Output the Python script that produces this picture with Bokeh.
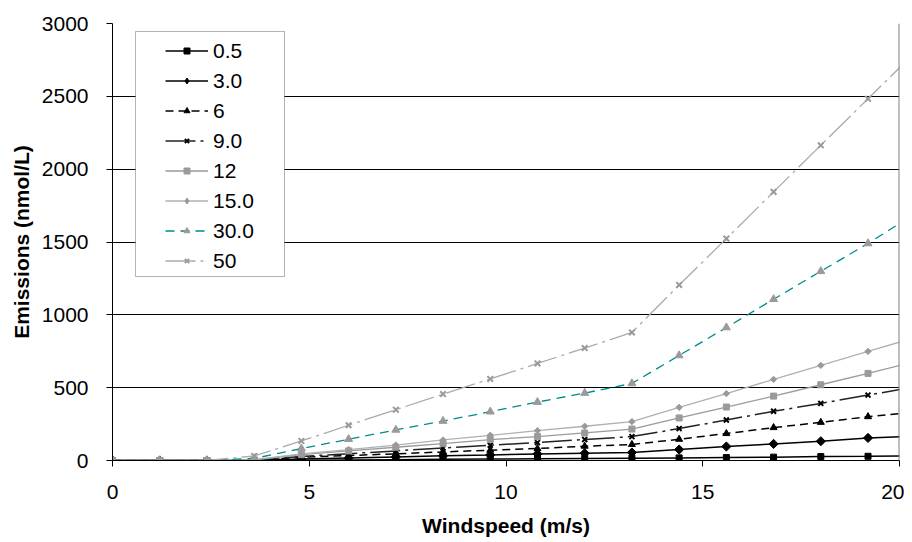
import math
from bokeh.plotting import figure
from bokeh.models import Range1d, Legend, LegendItem, BoxAnnotation, Span, FixedTicker
from bokeh.embed import file_html
from bokeh.resources import INLINE

# ---- data ----
windspeed = [0, 1.2, 2.4, 3.6, 4.8, 6.0, 7.2, 8.4, 9.6, 10.8, 12.0, 13.2, 14.4, 15.6, 16.8, 18.0, 19.2, 20.4]

s_0_5  = [0, 0, 0, 0, 2, 4, 6, 9, 10, 12, 14, 16, 18, 20, 23, 27, 29, 33]
s_3_0  = [0, 0, 0, 2, 10, 17, 24, 32, 38, 45, 50, 55, 75, 96, 114, 132, 155, 168]
s_6    = [0, 0, 0, 3, 22, 34, 46, 59, 71, 82, 98, 110, 146, 185, 226, 262, 301, 332]
s_9_0  = [0, 0, 0, 4, 28, 47, 66, 86, 105, 123, 144, 164, 219, 278, 338, 392, 449, 505]
s_12   = [0, 0, 0, 5, 40, 66, 91, 116, 144, 164, 189, 216, 292, 367, 442, 520, 598, 680]
s_15_0 = [0, 0, 0, 6, 46, 75, 106, 141, 173, 205, 235, 267, 365, 459, 557, 653, 749, 844]
s_30_0 = [0, 0, 0, 14, 82, 146, 210, 271, 335, 401, 463, 529, 721, 913, 1107, 1299, 1490, 1695]
s_50   = [0, 0, 0, 31, 134, 242, 349, 456, 560, 666, 772, 879, 1205, 1523, 1844, 2164, 2483, 2803]

labels = ["0.5", "3.0", "6", "9.0", "12", "15.0", "30.0", "50"]
series = [s_0_5, s_3_0, s_6, s_9_0, s_12, s_15_0, s_30_0, s_50]

y_ticks = [0, 500, 1000, 1500, 2000, 2500, 3000]
x_ticks = [0, 5, 10, 15, 20]

# ---- styles ----  (diamonds drawn as squares rotated by 45 degrees in the plot)
styles = [
    dict(lc="#000000", lw=1.5, dash="solid", m="square", ms=6, mc="#000000", ang=0),
    dict(lc="#000000", lw=1.5, dash="solid", m="square", ms=6.5, mc="#000000", ang=45),
    dict(lc="#000000", lw=1.5, dash="8 5", m="triangle", ms=7, mc="#000000", ang=0),
    dict(lc="#222222", lw=1.5, dash="30 5 3 5", m="x", ms=7, mc="#000000", ang=0),
    dict(lc="#9a9a9a", lw=1.3, dash="solid", m="square", ms=6, mc="#9a9a9a", ang=0),
    dict(lc="#b0b0b0", lw=1.3, dash="solid", m="square", ms=4.5, mc="#9a9a9a", ang=45),
    dict(lc="#008b8b", lw=1.3, dash="9 6", m="triangle", ms=8, mc="#9a9a9a", ang=0),
    dict(lc="#aaaaaa", lw=1.3, dash="30 5 3 5", m="x", ms=8, mc="#9a9a9a", ang=0),
]

FONT = "Liberation Sans"

p = figure(frame_width=787, frame_height=437,
           min_border_left=112, min_border_right=5, min_border_top=23, min_border_bottom=78,
           x_range=Range1d(0, 20), y_range=Range1d(0, 3000),
           output_backend="svg", toolbar_location=None)

p.outline_line_color = None
p.background_fill_color = "white"
p.border_fill_color = "white"

p.xgrid.visible = False
p.ygrid.grid_line_color = "#000000"
p.ygrid.grid_line_width = 1
p.ygrid.ticker = FixedTicker(ticks=y_ticks)

for ax in (p.xaxis[0], p.yaxis[0]):
    ax.axis_line_color = "#000000"
    ax.axis_line_width = 1
    ax.major_tick_line_color = "#000000"
    ax.major_tick_out = 6
    ax.major_tick_in = 0
    ax.minor_tick_line_color = None
    ax.major_label_text_font = FONT
    ax.major_label_text_font_size = "21px"
    ax.major_label_text_color = "#000000"
    ax.axis_label_text_font = FONT
    ax.axis_label_text_font_size = "21px"
    ax.axis_label_text_font_style = "bold"
    ax.axis_label_text_color = "#000000"

p.xaxis[0].ticker = FixedTicker(ticks=x_ticks)
p.yaxis[0].ticker = FixedTicker(ticks=y_ticks)
p.xaxis[0].axis_label = "Windspeed (m/s)"
p.yaxis[0].axis_label = "Emissions (nmol/L)"
p.xaxis[0].major_label_standoff = 18
p.xaxis[0].axis_label_standoff = 12
p.yaxis[0].major_label_standoff = 18
p.yaxis[0].axis_label_standoff = 6

# right border of plot area
p.add_layout(Span(location=20, dimension="height", line_color="#808080", line_width=2))

items = []
for lab, ys, st in zip(labels, series, styles):
    lr = p.line(windspeed, ys, line_color=st["lc"], line_width=st["lw"], line_dash=st["dash"])
    if st["m"] == "x":
        sr = p.scatter(windspeed, ys, marker="x", size=st["ms"], line_color=st["mc"], line_width=2)
        leg = [lr, sr]
    else:
        sr = p.scatter(windspeed, ys, marker=st["m"], size=st["ms"], angle=math.radians(st["ang"]),
                       fill_color=st["mc"], line_color=st["mc"])
        if st["ang"]:
            # legend glyphs are never rotated: a zero-size diamond renderer stands in for the legend
            dr = p.scatter(windspeed, ys, marker="diamond", size=0,
                           fill_color=st["mc"], line_color=st["mc"])
            leg = [lr, dr]
        else:
            leg = [lr, sr]
    items.append(LegendItem(label=lab, renderers=leg))

# legend frame
p.add_layout(BoxAnnotation(left=0.585, right=4.371, bottom=1263, top=2945,
                           fill_color="white", fill_alpha=1.0,
                           line_color="#000000", line_width=1))

legend = Legend(items=items, location=(53, 187), padding=0, spacing=5,
                label_height=25, glyph_height=15, glyph_width=43, label_standoff=5,
                label_text_font=FONT, label_text_font_size="21px", label_text_color="#000000",
                background_fill_alpha=0, border_line_alpha=0)
p.add_layout(legend)

open("out.html", "w").write(file_html(p, INLINE))
